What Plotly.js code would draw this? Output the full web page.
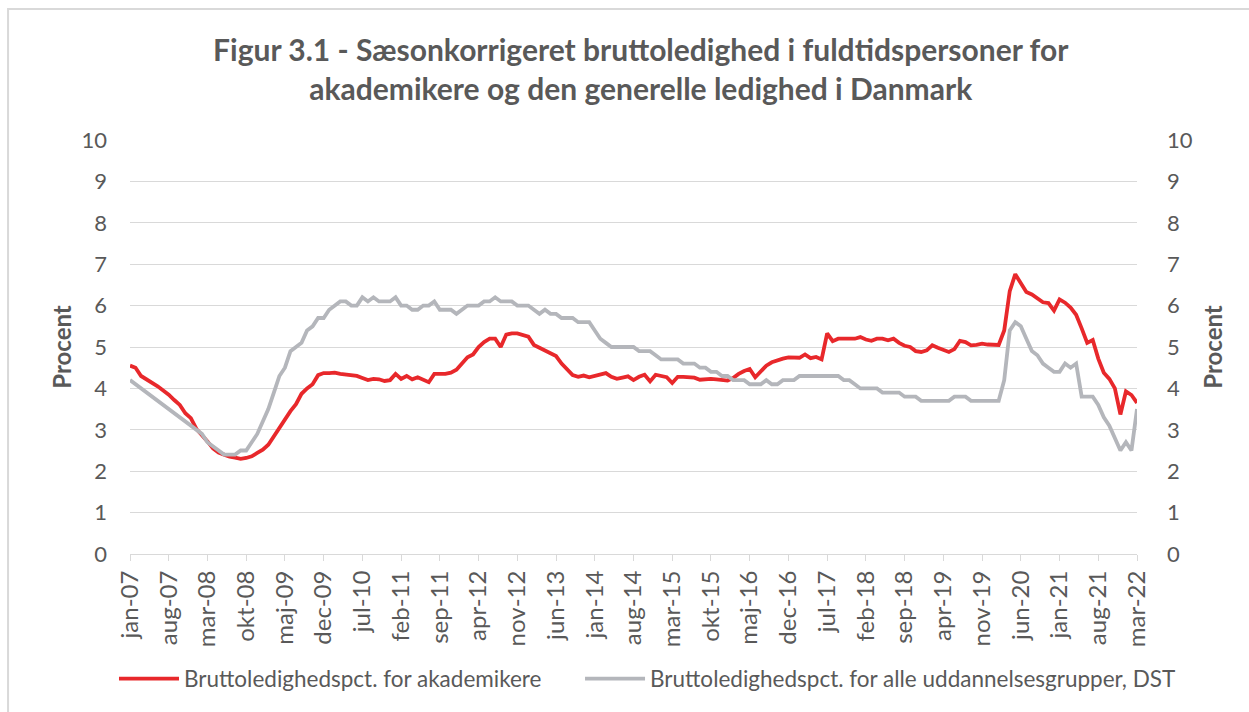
<!DOCTYPE html>
<html>
<head>
<meta charset="utf-8">
<script src="https://cdn.plot.ly/plotly-3.0.1.min.js"></script>
<style>
  html, body { margin: 0; padding: 0; background: #ffffff; }
  #chart { width: 1249px; height: 712px; }
</style>
</head>
<body>
<div id="chart"></div>
<script>
// Danish month abbreviations and years used to build the monthly category labels
const monthNames = ["jan","feb","mar","apr","maj","jun","jul","aug","sep","okt","nov","dec"];
const firstYear = 2007;
const nMonths = 183; // jan-07 .. mar-22

const categories = [];
for (let k = 0; k < nMonths; k++) {
  const m = k % 12;
  const y = firstYear + Math.floor(k / 12);
  categories.push(monthNames[m] + "-" + String(y % 100).padStart(2, "0"));
}

// Tick labels shown on the x axis (every 7th month)
const tickLabels = ["jan-07","aug-07","mar-08","okt-08","maj-09","dec-09","jul-10","feb-11","sep-11","apr-12","nov-12","jun-13","jan-14","aug-14","mar-15","okt-15","maj-16","dec-16","jul-17","feb-18","sep-18","apr-19","nov-19","jun-20","jan-21","aug-21","mar-22"];

// Bruttoledighedspct. for akademikere
const akademikere = [
  4.55,4.50,4.30,4.22,4.12,4.05,3.95,3.85,3.72,3.60,3.40,3.28,
  3.02,2.88,2.72,2.55,2.45,2.40,2.35,2.33,2.30,2.32,2.36,2.44,
  2.52,2.64,2.85,3.07,3.25,3.45,3.62,3.87,4.00,4.10,4.32,4.37,
  4.37,4.38,4.35,4.33,4.33,4.30,4.25,4.20,4.23,4.22,4.18,4.20,
  4.35,4.23,4.30,4.22,4.27,4.20,4.15,4.35,4.35,4.35,4.38,4.45,
  4.60,4.75,4.82,5.00,5.12,5.20,5.20,5.00,5.30,5.33,5.33,5.30,
  5.25,5.05,4.98,4.92,4.85,4.78,4.60,4.45,4.32,4.28,4.31,4.27,
  4.30,4.33,4.37,4.28,4.23,4.26,4.29,4.20,4.28,4.33,4.17,4.33,
  4.30,4.27,4.13,4.28,4.28,4.28,4.26,4.21,4.23,4.23,4.22,4.20,
  4.19,4.25,4.35,4.42,4.47,4.27,4.42,4.55,4.63,4.68,4.72,4.75,
  4.74,4.74,4.82,4.73,4.76,4.70,5.33,5.14,5.20,5.20,5.20,5.20,
  5.24,5.18,5.15,5.20,5.20,5.16,5.20,5.10,5.03,5.00,4.90,4.88,
  4.92,5.04,4.98,4.93,4.88,4.95,5.15,5.12,5.04,5.05,5.08,5.06,
  5.05,5.05,5.40,6.35,6.76,6.55,6.33,6.27,6.18,6.08,6.06,5.88,
  6.15,6.07,5.95,5.78,5.45,5.10,5.17,4.72,4.38,4.23,4.00,3.37,
  3.93,3.84,3.65
];

// Bruttoledighedspct. for alle uddannelsesgrupper, DST
const alleGrupper = [
  4.2,4.1,4.0,3.9,3.8,3.7,3.6,3.5,3.4,3.3,3.2,3.1,
  3.0,2.9,2.7,2.6,2.5,2.4,2.4,2.4,2.5,2.5,2.7,2.9,
  3.2,3.5,3.9,4.3,4.5,4.9,5.0,5.1,5.4,5.5,5.7,5.7,
  5.9,6.0,6.1,6.1,6.0,6.0,6.2,6.1,6.2,6.1,6.1,6.1,
  6.2,6.0,6.0,5.9,5.9,6.0,6.0,6.1,5.9,5.9,5.9,5.8,
  5.9,6.0,6.0,6.0,6.1,6.1,6.2,6.1,6.1,6.1,6.0,6.0,
  6.0,5.9,5.8,5.9,5.8,5.8,5.7,5.7,5.7,5.6,5.6,5.6,
  5.4,5.2,5.1,5.0,5.0,5.0,5.0,5.0,4.9,4.9,4.9,4.8,
  4.7,4.7,4.7,4.7,4.6,4.6,4.6,4.5,4.5,4.4,4.4,4.3,
  4.3,4.2,4.2,4.2,4.1,4.1,4.1,4.2,4.1,4.1,4.2,4.2,
  4.2,4.3,4.3,4.3,4.3,4.3,4.3,4.3,4.3,4.2,4.2,4.1,
  4.0,4.0,4.0,4.0,3.9,3.9,3.9,3.9,3.8,3.8,3.8,3.7,
  3.7,3.7,3.7,3.7,3.7,3.8,3.8,3.8,3.7,3.7,3.7,3.7,
  3.7,3.7,4.2,5.4,5.6,5.5,5.2,4.9,4.8,4.6,4.5,4.4,
  4.4,4.6,4.5,4.6,3.8,3.8,3.8,3.6,3.3,3.1,2.8,2.5,
  2.7,2.5,3.5
];

const yTicks = [0,1,2,3,4,5,6,7,8,9,10];

const FONT = "Lato, 'Open Sans', sans-serif";
const TXT = "#595959";
const GRID = "#d9d9d9";

const traces = [
  {
    x: categories, y: akademikere, type: "scatter", mode: "lines",
    name: "Bruttoledighedspct. for akademikere",
    line: { color: "#e8282b", width: 3.8 },
    legend: "legend"
  },
  {
    x: categories, y: alleGrupper, type: "scatter", mode: "lines",
    yaxis: "y2",
    name: "Bruttoledighedspct. for alle uddannelsesgrupper, DST",
    line: { color: "#b4b6bb", width: 3.8 },
    legend: "legend2"
  }
];

const legendFont = { family: FONT, size: 22.5, color: TXT };

const layout = {
  width: 1249, height: 712,
  margin: { l: 130, r: 112, t: 140, b: 158 },
  paper_bgcolor: "#ffffff", plot_bgcolor: "#ffffff",
  font: { family: FONT, color: TXT, size: 20 },
  title: {
    text: "<b>Figur 3.1 - Sæsonkorrigeret bruttoledighed i fuldtidspersoner for<br>akademikere og den generelle ledighed i Danmark</b>",
    font: { family: FONT, size: 30, color: TXT },
    x: 0.513, xanchor: "center", y: 0.914, yanchor: "top"
  },
  xaxis: {
    type: "category",
    categoryorder: "array", categoryarray: categories,
    range: [0, nMonths - 1],
    tickmode: "array", tickvals: tickLabels, ticktext: tickLabels,
    tickangle: -90,
    ticks: "outside", ticklen: 6, tickcolor: GRID, tickwidth: 1,
    showline: true, linecolor: GRID, linewidth: 1,
    showgrid: false, zeroline: false,
    tickfont: { family: FONT, size: 24, color: TXT },
    fixedrange: true
  },
  yaxis: {
    range: [0, 10], tickmode: "array", tickvals: yTicks,
    showgrid: true, gridcolor: GRID, gridwidth: 1,
    zeroline: false, showline: false,
    ticks: "", ticklabelstandoff: 22,
    tickfont: { family: FONT, size: 22, color: TXT },
    title: { text: "<b>Procent</b>", font: { family: FONT, size: 24, color: TXT }, standoff: 3 },
    fixedrange: true
  },
  yaxis2: {
    overlaying: "y", side: "right",
    range: [0, 10], tickmode: "array", tickvals: yTicks,
    showgrid: false, zeroline: false, showline: false,
    ticks: "", ticklabelstandoff: 29,
    tickfont: { family: FONT, size: 22, color: TXT },
    title: { text: "<b>Procent</b>", font: { family: FONT, size: 24, color: TXT }, standoff: 13 },
    fixedrange: true
  },
  legend: {
    orientation: "h", x: -0.0159, xanchor: "left", y: -0.302, yanchor: "middle",
    font: legendFont, itemwidth: 60
  },
  legend2: {
    orientation: "h", x: 0.4469, xanchor: "left", y: -0.302, yanchor: "middle",
    font: legendFont, itemwidth: 60
  },
  showlegend: true,
  shapes: [
    {
      type: "rect", xref: "paper", yref: "paper",
      x0: -0.1211, x1: 1.5, y0: -1.0, y1: 1.3164,
      line: { color: GRID, width: 2 }, fillcolor: "rgba(0,0,0,0)", layer: "below"
    }
  ]
};

Plotly.newPlot("chart", traces, layout, { displayModeBar: false, staticPlot: true });
</script>
</body>
</html>
